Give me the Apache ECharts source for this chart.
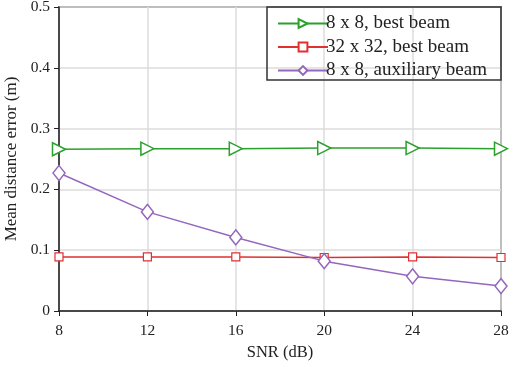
<!DOCTYPE html>
<html>
<head>
<meta charset="utf-8">
<script src="https://cdn.jsdelivr.net/npm/echarts@6/dist/echarts.min.js"></script>
<style>
  html, body { margin: 0; padding: 0; background: #fff; }
  #chart { width: 517px; height: 367px; }
</style>
</head>
<body>
<div id="chart"></div>
<script>
let snr = [8, 12, 16, 20, 24, 28];
let best8 = [0.266, 0.267, 0.267, 0.268, 0.268, 0.267];
let best32 = [0.089, 0.089, 0.089, 0.088, 0.089, 0.088];
let aux8 = [0.227, 0.163, 0.121, 0.082, 0.057, 0.041];
let seriesNames = ['8 x 8, best beam', '32 x 32, best beam', '8 x 8, auxiliary beam'];

let green = '#2ca02c';
let red = '#e03030';
let purple = '#9467bd';

function pairs(vals) {
    return snr.map(function (x, i) { return [x, vals[i]]; });
}

let font = 'Liberation Serif, Times New Roman, serif';

let option = {
    animation: false,
    textStyle: { fontFamily: font },
    grid: {
        left: 59, right: 16, top: 7, bottom: 56,
        outerBoundsMode: 'none',
        containLabel: false,
        show: true,
        borderColor: '#333',
        borderWidth: 1.5
    },
    legend: {
        orient: 'vertical',
        left: 272,
        top: 9,
        itemWidth: 50,
        itemHeight: 11,
        itemGap: 4.5,
        data: seriesNames,
        textStyle: { fontFamily: font, fontSize: 19, color: '#222', padding: [0, 0, 0, -7] }
    },
    graphic: [{
        type: 'rect',
        shape: { x: 267, y: 7, width: 234, height: 73 },
        style: { fill: 'none', stroke: '#333', lineWidth: 1.5 },
        z: 100
    }],
    xAxis: {
        type: 'value',
        min: 8, max: 28, interval: 4,
        name: 'SNR (dB)',
        nameLocation: 'middle',
        nameGap: 33,
        nameTextStyle: { fontFamily: font, fontSize: 16.5, color: '#222' },
        axisLine: { show: true, lineStyle: { color: '#222', width: 1.5 } },
        axisTick: { show: true, inside: false, length: 5, lineStyle: { color: '#222' } },
        axisLabel: { fontFamily: font, fontSize: 15.5, color: '#222', margin: 12 },
        splitLine: { show: true, lineStyle: { color: '#ddd', width: 1.5 } }
    },
    yAxis: {
        type: 'value',
        min: 0, max: 0.5, interval: 0.1,
        name: 'Mean distance error (m)',
        nameLocation: 'middle',
        nameGap: 33,
        nameTextStyle: { fontFamily: font, fontSize: 17, color: '#222' },
        axisLine: { show: true, lineStyle: { color: '#222', width: 1.5 } },
        axisTick: { show: true, inside: false, length: 5, lineStyle: { color: '#222' } },
        axisLabel: {
            fontFamily: font, fontSize: 15.5, color: '#222', margin: 9,
            formatter: function (v) { return v === 0 ? '0' : v.toFixed(1); }
        },
        splitLine: { show: true, lineStyle: { color: '#ddd', width: 1.5 } }
    },
    series: [
        {
            name: seriesNames[0],
            type: 'line',
            data: pairs(best8),
            symbol: 'triangle',
            symbolRotate: -90,
            symbolSize: 13,
            lineStyle: { color: green, width: 1.5 },
            itemStyle: { color: '#fff', borderColor: green, borderWidth: 1.5 }
        },
        {
            name: seriesNames[1],
            type: 'line',
            data: pairs(best32),
            symbol: 'rect',
            symbolSize: 8,
            lineStyle: { color: red, width: 1.5 },
            itemStyle: { color: '#fff', borderColor: red, borderWidth: 1.2 }
        },
        {
            name: seriesNames[2],
            type: 'line',
            data: pairs(aux8),
            symbol: 'diamond',
            symbolSize: [12, 15],
            lineStyle: { color: purple, width: 1.5 },
            itemStyle: { color: '#fff', borderColor: purple, borderWidth: 1.5 }
        }
    ]
};

let chart = echarts.init(document.getElementById('chart'));
chart.setOption(option);
</script>
</body>
</html>
